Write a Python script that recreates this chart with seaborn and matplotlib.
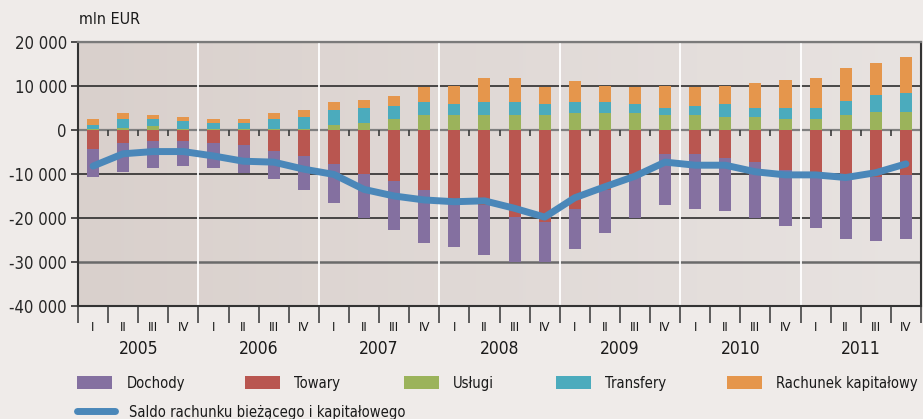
import numpy as np
import pandas as pd
import matplotlib
matplotlib.use("Agg")
import matplotlib.pyplot as plt
import seaborn as sns
from matplotlib.colors import LinearSegmentedColormap
from matplotlib.patches import Patch
from matplotlib.lines import Line2D
from matplotlib.ticker import FuncFormatter

# data (mln EUR), quarterly 2005-2011
years = ["2005", "2006", "2007", "2008", "2009", "2010", "2011"]
quarter_names = ["I", "II", "III", "IV"]

uslugi = [300, 400, 900, 300, 300, 300, 300, 300,
          1200, 1700, 2600, 3300, 3300, 3300, 3300, 3300,
          3800, 3800, 3800, 3300, 3300, 2900, 2900, 2500,
          2500, 3300, 4200, 4200]
transfery = [800, 2200, 1700, 1700, 1400, 1400, 2300, 2600,
             3300, 3300, 2900, 3000, 2500, 3000, 3000, 2500,
             2500, 2500, 2000, 1700, 2200, 2900, 2100, 2500,
             2500, 3400, 3800, 4300]
rachunek = [1400, 1200, 800, 900, 900, 900, 1200, 1700,
            1900, 1800, 2200, 3500, 4300, 5600, 5600, 4000,
            4800, 3800, 4000, 5100, 4300, 4300, 5700, 6400,
            6900, 7300, 7300, 8100]
towary = [-4300, -3000, -2600, -2600, -3000, -3500, -4800, -6000,
          -7800, -9900, -11700, -13700, -16900, -17100, -19700, -20900,
          -18000, -13700, -10000, -5500, -5500, -6400, -7300, -9100,
          -9500, -10100, -10700, -10200]
dochody = [-6400, -6500, -6000, -5500, -5600, -6300, -6300, -7700,
           -8900, -10200, -11000, -12000, -9700, -11200, -10200, -9000,
           -9000, -9800, -10100, -11600, -12500, -12000, -12800, -12700,
           -12800, -14700, -14500, -14600]
saldo = [-8200, -5400, -4900, -4900, -5900, -7100, -7300, -8900,
         -10100, -13500, -15000, -15900, -16300, -16100, -17800, -19800,
         -15400, -12900, -10500, -7300, -8000, -8000, -9500, -10200,
         -10200, -10800, -9700, -7700]

labels = {
    "dochody": "Dochody",
    "towary": "Towary",
    "uslugi": "Usługi",
    "transfery": "Transfery",
    "rachunek": "Rachunek kapitałowy",
    "saldo": "Saldo rachunku bieżącego i kapitałowego",
}
colors = {
    "dochody": "#8470a0",
    "towary": "#b95650",
    "uslugi": "#9bb35b",
    "transfery": "#4babbd",
    "rachunek": "#e5964c",
    "saldo": "#4a87b9",
}

df = pd.DataFrame({
    "okres": [f"{y} {q}" for y in years for q in quarter_names],
    "uslugi": uslugi, "transfery": transfery, "rachunek": rachunek,
    "towary": towary, "dochody": dochody, "saldo": saldo,
})
# cumulative tops so the stacks can be drawn as overlapping bars
df["pos_1"] = df["uslugi"]
df["pos_2"] = df["uslugi"] + df["transfery"]
df["pos_3"] = df["pos_2"] + df["rachunek"]
df["neg_1"] = df["towary"]
df["neg_2"] = df["towary"] + df["dochody"]

sns.set_style("white")
plt.rcParams["font.family"] = ["Liberation Sans Narrow", "DejaVu Sans"]
plt.rcParams["font.stretch"] = "condensed"
plt.rcParams["text.color"] = "#1a1a1a"

fig = plt.figure(figsize=(9.23, 4.19), dpi=100, facecolor="#efebe9")
ax = fig.add_axes([78 / 923, 1 - 306 / 419, 843 / 923, 264 / 419])

# gradient background of the plot area
bg = LinearSegmentedColormap.from_list("bg", ["#d9d0cc", "#e8e3e1"])
ax.imshow(np.linspace(0, 1, 256).reshape(1, -1), cmap=bg, aspect="auto",
          extent=[0, 1, 0, 1], transform=ax.transAxes, zorder=0)

# horizontal gridlines
grid_style = {20000: ("#7a7a7a", 1.6), 10000: ("#1e1e1e", 1.1),
              0: ("#7f7f7f", 1.6), -10000: ("#1e1e1e", 1.1),
              -20000: ("#1e1e1e", 1.1), -30000: ("#6a6a6a", 1.8)}
for yv, (c, lw) in grid_style.items():
    ax.axhline(yv, color=c, lw=lw, zorder=1)

# year separators
for b in range(4, 28, 4):
    ax.axvline(b - 0.5, color="white", lw=1.3, zorder=1.5)

order = list(df["okres"])
layers = [("pos_3", "rachunek"), ("pos_2", "transfery"), ("pos_1", "uslugi"),
          ("neg_2", "dochody"), ("neg_1", "towary")]
for col, key in layers:
    sns.barplot(data=df, x="okres", y=col, order=order, color=colors[key],
                saturation=1, width=0.4, edgecolor="none", ax=ax, zorder=2)

# small ticks on the zero line between quarters
small = [k + 0.5 for k in range(27) if (k + 1) % 4 != 0]
ax.vlines(small, -1400, 0, color="#3a3a3a", lw=1.2, zorder=1.6)

sns.lineplot(x=np.arange(len(df)), y=df["saldo"], color=colors["saldo"],
             lw=5, ax=ax, zorder=3, solid_capstyle="round")

ax.set_xlim(-0.5, 27.5)
ax.set_ylim(-40000, 20000)
ax.set_yticks(range(-40000, 20001, 10000))
ax.yaxis.set_major_formatter(FuncFormatter(lambda v, p: f"{int(v):,}".replace(",", " ")))
ax.set_xlabel("")
ax.set_ylabel("")

ax.set_xticks(range(28))
ax.set_xticklabels(quarter_names * len(years), fontsize=9.5)
ax.set_xticks(np.arange(-0.5, 28, 1), minor=True)
ax.tick_params(axis="x", which="major", length=0, pad=11, colors="#1a1a1a")
ax.tick_params(axis="x", which="minor", length=12, width=1.2, color="#444444",
               direction="out", bottom=True)
ax.tick_params(axis="y", length=5, width=1.2, color="#333333", left=True,
               labelsize=12, pad=3)

for s in ["left", "bottom", "right"]:
    ax.spines[s].set_color("#333333")
    ax.spines[s].set_linewidth(1.5)
ax.spines["top"].set_color("#7a7a7a")
ax.spines["top"].set_linewidth(1.6)

for i, y in enumerate(years):
    ax.text(i * 4 + 1.5, -0.163, y, transform=ax.get_xaxis_transform(),
            ha="center", va="center", fontsize=12.5)

fig.text(79 / 923, 1 - 20 / 419, "mln EUR", ha="left", va="center", fontsize=11.5)

# legend, one entry at a time to keep the original spacing
legend_x = {"dochody": 77, "towary": 245, "uslugi": 404,
            "transfery": 556, "rachunek": 727}
for key, xpix in legend_x.items():
    fig.legend(handles=[Patch(facecolor=colors[key], edgecolor="none",
                              label=labels[key])],
               loc="center left", bbox_to_anchor=(xpix / 923, 1 - 383 / 419),
               frameon=False, fontsize=10.6, handlelength=2.4, handleheight=1.05,
               handletextpad=0.95, borderpad=0, borderaxespad=0)
fig.legend(handles=[Line2D([0], [0], color=colors["saldo"], lw=5,
                           solid_capstyle="round", label=labels["saldo"])],
           loc="center left", bbox_to_anchor=(77 / 923, 1 - 412 / 419),
           frameon=False, fontsize=10.6, handlelength=2.6,
           handletextpad=0.9, borderpad=0, borderaxespad=0)

fig.savefig("out.png", dpi=100, facecolor=fig.get_facecolor())
